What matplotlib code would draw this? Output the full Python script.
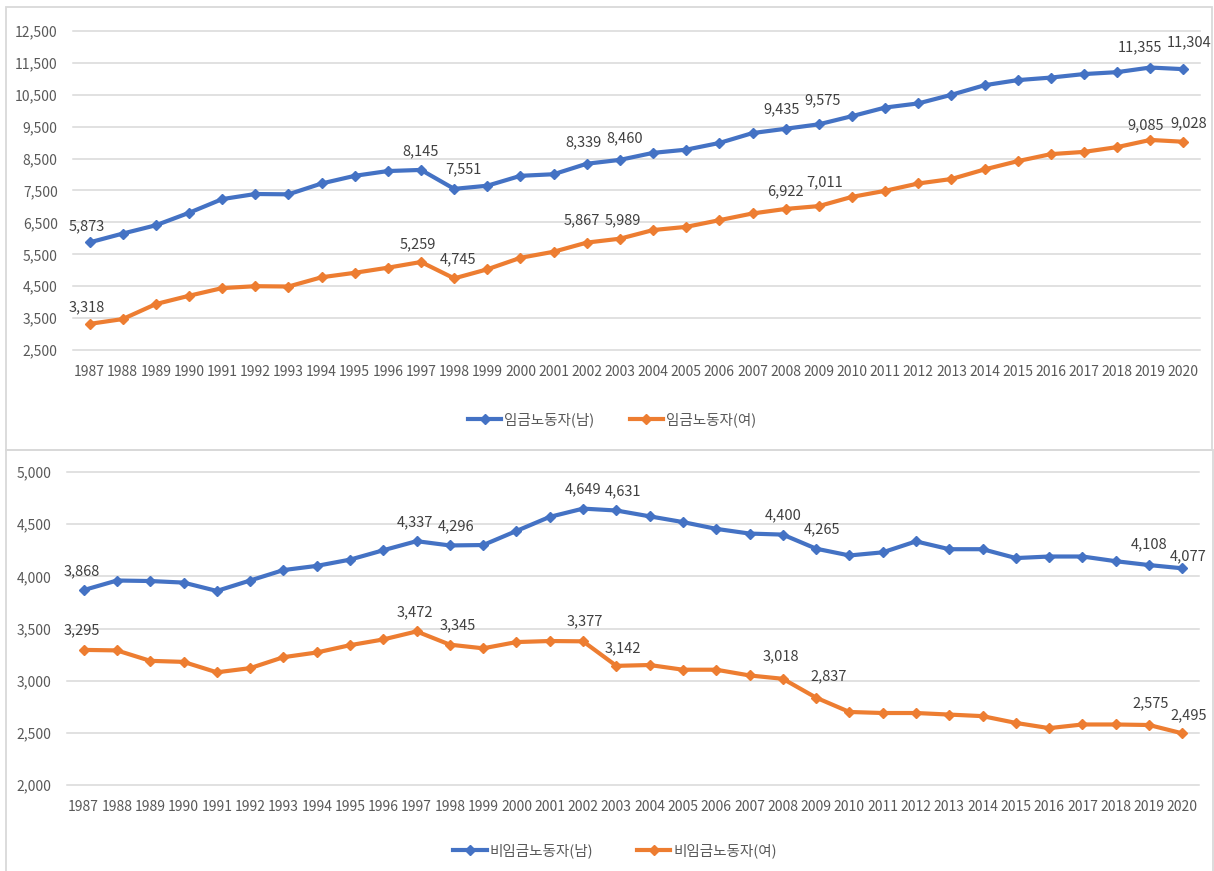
import matplotlib
matplotlib.use('Agg')
import matplotlib.pyplot as plt
from matplotlib.ticker import FuncFormatter
from matplotlib.lines import Line2D
from matplotlib.patches import Rectangle

plt.rcParams['font.family'] = ['Noto Sans CJK KR', 'DejaVu Sans']

# ---------------- data ----------------
years = [str(y) for y in range(1987, 2021)]

wage_male = [5873, 6150, 6410, 6800, 7230, 7390, 7380, 7720, 7960, 8110,
             8145, 7551, 7650, 7960, 8010, 8339, 8460, 8680, 8780, 8990,
             9300, 9435, 9575, 9830, 10100, 10230, 10500, 10800, 10960, 11040,
             11150, 11210, 11355, 11304]
wage_female = [3318, 3470, 3940, 4200, 4440, 4500, 4490, 4780, 4920, 5080,
               5259, 4745, 5030, 5390, 5580, 5867, 5989, 6260, 6360, 6570,
               6780, 6922, 7011, 7300, 7490, 7720, 7860, 8160, 8420, 8640,
               8710, 8860, 9085, 9028]
nonwage_male = [3868, 3960, 3955, 3940, 3860, 3960, 4060, 4100, 4160, 4250,
                4337, 4296, 4300, 4435, 4570, 4649, 4631, 4575, 4520, 4455,
                4410, 4400, 4265, 4200, 4230, 4335, 4260, 4260, 4175, 4190,
                4190, 4145, 4108, 4077]
nonwage_female = [3295, 3290, 3190, 3180, 3080, 3120, 3225, 3270, 3340, 3395,
                  3472, 3345, 3310, 3370, 3380, 3377, 3142, 3150, 3105, 3105,
                  3050, 3018, 2837, 2700, 2690, 2690, 2675, 2660, 2595, 2545,
                  2580, 2580, 2575, 2495]

labeled_years = ['1987', '1997', '1998', '2002', '2003', '2008', '2009', '2019', '2020']

legend_top = ['임금노동자(남)', '임금노동자(여)']
legend_bottom = ['비임금노동자(남)', '비임금노동자(여)']

top_ticks = [2500, 3500, 4500, 5500, 6500, 7500, 8500, 9500, 10500, 11500, 12500]
bottom_ticks = [2000, 2500, 3000, 3500, 4000, 4500, 5000]

# ---------------- style ----------------
BLUE = '#4472C4'
ORANGE = '#ED7D31'
GRID = '#D9D9D9'
TXT = '#595959'
LBL = '#404040'
W, H = 1214, 871

# label nudges (px) for each series, in order of labeled_years
nudge_top_m = [(-3, 16), (0, 19), (9, 20), (-3, 21), (5, 22), (-4, 19), (4, 24), (-10, 20), (6, 27)]
nudge_top_f = [(-3, 17), (-3, 18), (4, 19), (-5, 22), (3, 18), (0, 18), (6, 24), (-5, 15), (5, 18)]
nudge_bot_m = [(-2, 19), (-2, 19), (6, 19), (0, 19), (7, 19), (0, 19), (6, 19), (0, 21), (6, 12)]
nudge_bot_f = [(-2, 20), (-2, 19), (8, 19), (2, 20), (7, 18), (-2, 22), (13, 21), (2, 22), (6, 18)]


def rect(l, r, t, b):
    return [l / W, 1 - b / H, (r - l) / W, (b - t) / H]


fig = plt.figure(figsize=(W / 100, H / 100), dpi=100)
fig.patch.set_facecolor('white')

# panel borders
fig.add_artist(Rectangle((6 / W, 1 - 450 / H), (1212 - 6) / W, (450 - 7) / H,
                         transform=fig.transFigure, fill=False, ec=GRID, lw=1.3))
fig.add_artist(Rectangle((6 / W, -0.05), (1213 - 6) / W, (1 - 450 / H) + 0.05,
                         transform=fig.transFigure, fill=False, ec=GRID, lw=1.3))

ax1 = fig.add_axes(rect(73, 1200, 31, 350))
ax2 = fig.add_axes(rect(67, 1199, 472, 785))

fmt = FuncFormatter(lambda v, p: f'{int(v):,}')


def style(ax, ticks):
    ax.set_xlim(-0.5, len(years) - 0.5)
    ax.set_ylim(ticks[0], ticks[-1])
    ax.set_yticks(ticks)
    ax.yaxis.set_major_formatter(fmt)
    ax.set_xticks(range(len(years)))
    ax.set_xticklabels(years)
    for s in ax.spines.values():
        s.set_visible(False)
    ax.tick_params(axis='both', length=0, labelsize=10, labelcolor=TXT)
    ax.tick_params(axis='x', pad=11)
    ax.tick_params(axis='y', pad=11)
    ax.yaxis.grid(True, color=GRID, lw=1.1)
    for gl in ax.yaxis.get_gridlines():
        gl.set_clip_on(False)
    ax.set_axisbelow(True)
    ax.patch.set_alpha(0)


def plot_series(ax, vals, color, nudges):
    x = list(range(len(years)))
    ax.plot(x, vals, color=color, lw=3, marker='D', ms=5, mfc=color, mec=color,
            solid_capstyle='round', solid_joinstyle='round', zorder=3, clip_on=False)
    for k, yr in enumerate(labeled_years):
        i = years.index(yr)
        dx, dy = nudges[k]
        ax.annotate(f'{vals[i]:,}', (i, vals[i]), xytext=(dx * 0.72, dy * 0.72),
                    textcoords='offset points', ha='center', va='center',
                    fontsize=10.5, color=LBL, zorder=4)


style(ax1, top_ticks)
style(ax2, bottom_ticks)

plot_series(ax1, wage_male, BLUE, nudge_top_m)
plot_series(ax1, wage_female, ORANGE, nudge_top_f)
plot_series(ax2, nonwage_male, BLUE, nudge_bot_m)
plot_series(ax2, nonwage_female, ORANGE, nudge_bot_f)


def handles():
    return [Line2D([], [], color=BLUE, lw=3, marker='D', ms=5),
            Line2D([], [], color=ORANGE, lw=3, marker='D', ms=5)]


fig.legend(handles(), legend_top, loc='center', bbox_to_anchor=(612 / W, 1 - 420 / H),
           ncol=2, frameon=False, fontsize=10.5, labelcolor=TXT, handlelength=2.3,
           handletextpad=0.2, columnspacing=2.4)
fig.legend(handles(), legend_bottom, loc='center', bbox_to_anchor=(615 / W, 1 - 851 / H),
           ncol=2, frameon=False, fontsize=10.5, labelcolor=TXT, handlelength=2.3,
           handletextpad=0.2, columnspacing=3.0)

fig.savefig('out.png', dpi=100, facecolor='white')
